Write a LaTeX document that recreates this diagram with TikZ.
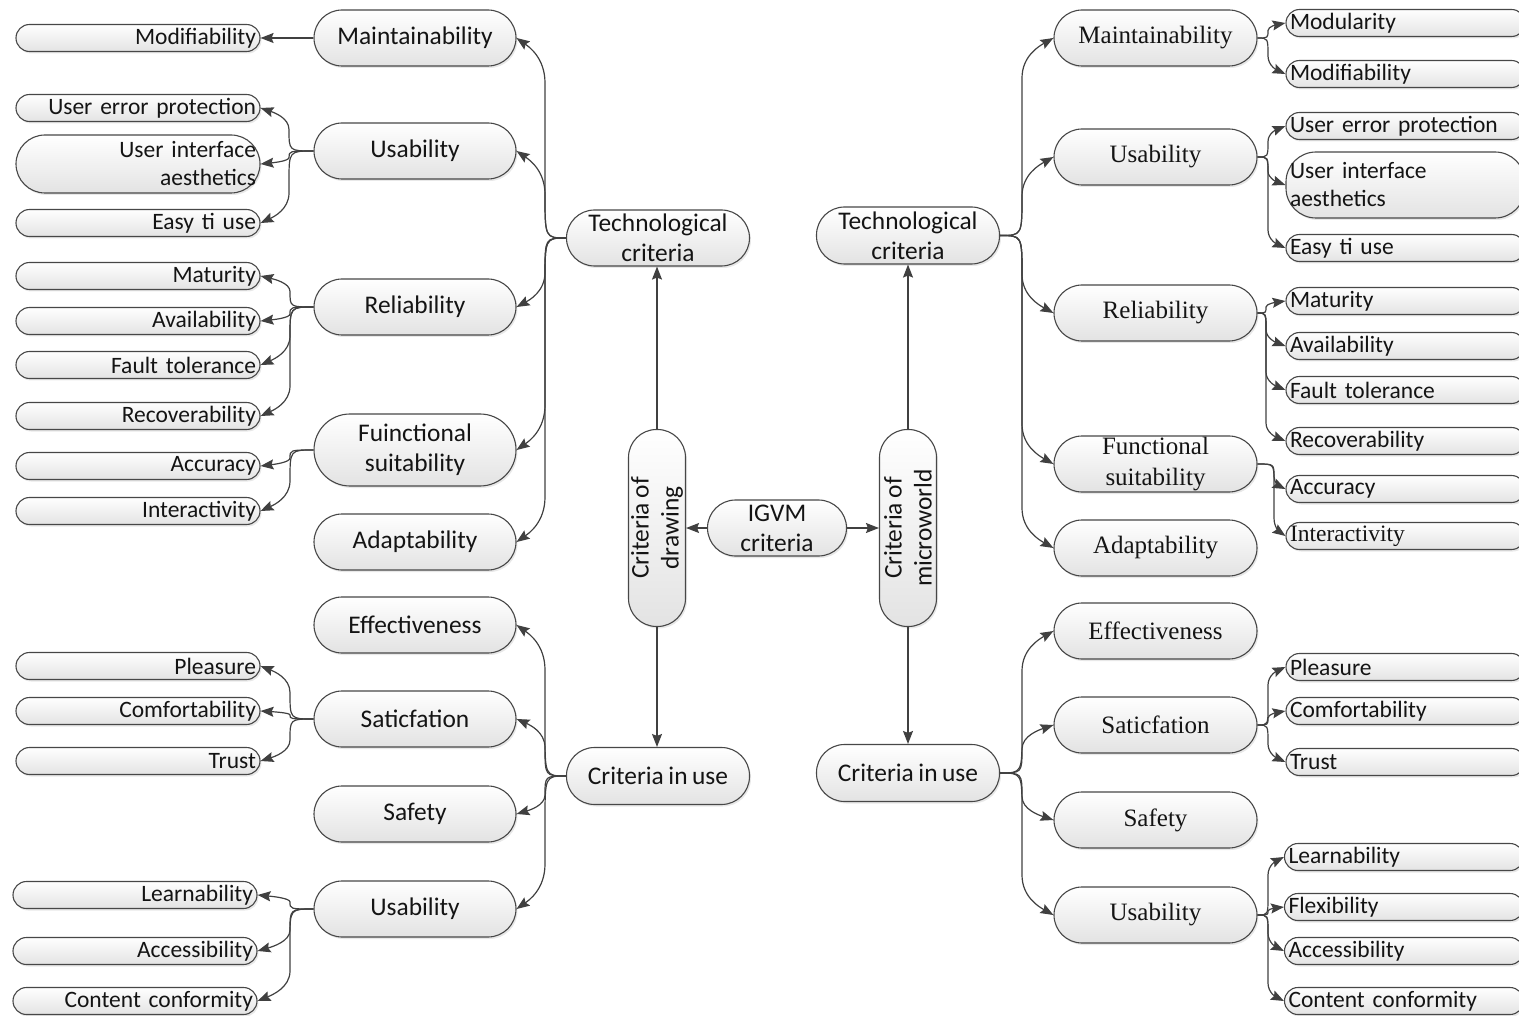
\documentclass[tikz,border=0pt]{standalone}
\usepackage{fontspec}
\setmainfont[WordSpace=0.8]{Carlito}
\newfontfamily\tnr{Liberation Serif}
\usetikzlibrary{arrows.meta,shadows,calc}
\newcommand\fmid{\fontsize{25.4}{30}\selectfont}
\newcommand\fmidR{\fontsize{25}{31}\selectfont}
\newcommand\fleaf{\fontsize{23.5}{28}\selectfont}
\tikzset{
  box/.style={draw=black!72, line width=1.1pt, top color=white, bottom color=black!11,
    drop shadow={shadow xshift=1.5pt, shadow yshift=-2pt, opacity=0.18},
    text=black!92, inner sep=0pt},
  mid/.style={box, rounded corners=28pt, minimum width=202pt, minimum height=56pt, align=center, font=\fmid},
  midR/.style={mid, minimum width=203pt, font=\tnr\fmidR},
  leafL/.style={box, rounded corners=13.5pt, minimum height=27pt, text width=236pt, inner xsep=4pt, align=right, font=\fleaf},
  leafR/.style={box, rounded corners=13.5pt, minimum height=27pt, text width=231pt, inner xsep=4pt, align=left, font=\fleaf},
  cen/.style={box, rounded corners=28pt, minimum width=183pt, minimum height=56pt, align=center, font=\fmid},
  arr/.style={draw=black!75, line width=1.2pt, -{Stealth[length=13pt,width=10pt,inset=2pt]}},
}
% curved connector: [max radius]{source}{target}{trunk x}
\newcommand\cn[4][40]{%
  \draw[arr] let \p1=(#2), \p2=(#3),
    \n1={(\y2-\y1)/abs(\y2-\y1)}, \n2={min(#1,abs(\y2-\y1)/2)} in
    (\p1) .. controls ({#4pt},\y1) .. ({#4pt},{\y1+\n1*\n2})
    -- ({#4pt},{\y2-\n1*\n2})
    .. controls ({#4pt},{\y2-\n1*\n2*0.45}) and ({\x2+(#4-\x2)*0.45},{\y2-\n1*\n2*0.2}) .. (\p2);}
\begin{document}
\begin{tikzpicture}[x=1pt,y=-1pt]
\useasboundingbox (0,0) rectangle (1519,1016);
\clip (0,0) rectangle (1519,1016);

% ---------- centre ----------
\node[cen] (TL) at (658,238) {Technological\\criteria};
\node[cen, minimum height=57pt] (CL) at (658,776) {Criteria in use};
\node[cen, minimum width=197pt, minimum height=57pt, rotate=90] (D) at (657,528) {Criteria of\\drawing};
\node[cen, minimum width=139pt] (IG) at (777,528) {IGVM\\criteria};
\node[cen, minimum width=197pt, minimum height=57pt, rotate=90] (M) at (908,528) {Criteria of\\microworld};
\node[cen, minimum height=57pt] (TR) at (908,235.5) {Technological\\criteria};
\node[cen, minimum height=57pt] (CR) at (908,773) {Criteria in use};

\draw[arr] (D.east) -- (D.east |- TL.south);
\draw[arr] (D.west) -- (D.west |- CL.north);
\draw[arr] (IG.west) -- (D.south);
\draw[arr] (IG.east) -- (M.north);
\draw[arr] (M.east) -- (M.east |- TR.south);
\draw[arr] (M.west) -- (M.west |- CR.north);

% ---------- left mid level ----------
\node[mid] (MaintL) at (415,38) {Maintainability};
\node[mid] (UsabL) at (415,151) {Usability};
\node[mid] (RelL) at (415,307) {Reliability};
\node[mid, minimum height=72pt, rounded corners=36pt] (FuncL) at (415,450) {Fuinctional\\suitability};
\node[mid] (AdaptL) at (415,542) {Adaptability};
\node[mid] (EffL) at (415,625) {Effectiveness};
\node[mid] (SatL) at (415,719) {Saticfation};
\node[mid] (SafeL) at (415,814) {Safety};
\node[mid] (Usab2L) at (415,909) {Usability};

% ---------- left leaves ----------
\node[leafL] (ModL) at (138,38) {Modifiability};
\node[leafL] (UepL) at (138,108) {User error protection};
\node[leafL, minimum height=58pt, rounded corners=29pt] (UiaL) at (138,164) {User interface\\aesthetics};
\node[leafL] (EasyL) at (138,223) {Easy ti use};
\node[leafL] (MatL) at (138,276) {Maturity};
\node[leafL] (AvaL) at (138,321) {Availability};
\node[leafL] (FaultL) at (138,365) {Fault tolerance};
\node[leafL] (RecL) at (138,416) {Recoverability};
\node[leafL] (AccL) at (138,466) {Accuracy};
\node[leafL] (IntL) at (138,511) {Interactivity};
\node[leafL] (PleaL) at (138,666) {Pleasure};
\node[leafL] (ComfL) at (138,711) {Comfortability};
\node[leafL] (TrustL) at (138,761) {Trust};
\node[leafL] (LearnL) at (135,895) {Learnability};
\node[leafL] (AccsL) at (135,951) {Accessibility};
\node[leafL] (ContL) at (135,1001) {Content conformity};

% ---------- right mid level ----------
\node[midR] (MaintR) at (1155.5,38) {Maintainability};
\node[midR] (UsabR) at (1155.5,157) {Usability};
\node[midR] (RelR) at (1155.5,313) {Reliability};
\node[midR] (FuncR) at (1155.5,464) {Functional\\suitability};
\node[midR] (AdaptR) at (1155.5,548) {Adaptability};
\node[midR] (EffR) at (1155.5,631) {Effectiveness};
\node[midR] (SatR) at (1155.5,725) {Saticfation};
\node[midR] (SafeR) at (1155.5,820) {Safety};
\node[midR] (Usab2R) at (1155.5,915) {Usability};

% ---------- right leaves ----------
\node[leafR] (ModuR) at (1405.5,23) {Modularity};
\node[leafR] (ModR) at (1405.5,74) {Modifiability};
\node[leafR] (UepR) at (1405.5,126) {User error protection};
\node[leafR, minimum height=66pt, rounded corners=30pt] (UiaR) at (1405.5,185) {User interface\\aesthetics};
\node[leafR] (EasyR) at (1405.5,248) {Easy ti use};
\node[leafR] (MatR) at (1405.5,301) {Maturity};
\node[leafR] (AvaR) at (1405.5,346) {Availability};
\node[leafR] (FaultR) at (1405.5,390) {Fault tolerance};
\node[leafR] (RecR) at (1405.5,441) {Recoverability};
\node[leafR] (AccR) at (1405.5,489) {Accuracy};
\node[leafR, font=\tnr\fleaf] (IntR) at (1405.5,536) {Interactivity};
\node[leafR] (PleaR) at (1405.5,667) {Pleasure};
\node[leafR] (ComfR) at (1405.5,711) {Comfortability};
\node[leafR] (TrustR) at (1405.5,762) {Trust};
\node[leafR] (LearnR) at (1404,857) {Learnability};
\node[leafR] (FlexR) at (1404,907) {Flexibility};
\node[leafR] (AccsR) at (1404,951) {Accessibility};
\node[leafR] (ContR) at (1404,1001) {Content conformity};

% ---------- left connectors ----------
\foreach \t in {MaintL,UsabL,RelL,FuncL,AdaptL} {\cn[45]{TL.west}{\t.east}{545}}
\foreach \t in {EffL,SatL,SafeL,Usab2L} {\cn[45]{CL.west}{\t.east}{545}}
\draw[arr] (MaintL.west) -- (ModL.east);
\foreach \t in {UepL,UiaL,EasyL} {\cn[30]{UsabL.west}{\t.east}{289}}
\foreach \t in {MatL,AvaL,FaultL,RecL} {\cn[30]{RelL.west}{\t.east}{290}}
\foreach \t in {AccL,IntL} {\cn[30]{FuncL.west}{\t.east}{290}}
\foreach \t in {PleaL,ComfL,TrustL} {\cn[30]{SatL.west}{\t.east}{290}}
\foreach \t in {LearnL,AccsL,ContL} {\cn[30]{Usab2L.west}{\t.east}{290}}

% ---------- right connectors ----------
\foreach \t in {MaintR,UsabR,RelR,FuncR,AdaptR} {\cn[40]{TR.east}{\t.west}{1022}}
\foreach \t in {EffR,SatR,SafeR,Usab2R} {\cn[40]{CR.east}{\t.west}{1022}}
\foreach \t in {ModuR,ModR} {\cn[18]{MaintR.east}{\t.west}{1268}}
\foreach \t in {UepR,UiaR,EasyR} {\cn[18]{UsabR.east}{\t.west}{1268}}
\foreach \t in {MatR,AvaR,FaultR,RecR} {\cn[18]{RelR.east}{\t.west}{1266}}
\foreach \t in {AccR,IntR} {\cn[18]{FuncR.east}{\t.west}{1274}}
\foreach \t in {PleaR,ComfR,TrustR} {\cn[18]{SatR.east}{\t.west}{1268}}
\foreach \t in {LearnR,FlexR,AccsR,ContR} {\cn[18]{Usab2R.east}{\t.west}{1268}}
\end{tikzpicture}
\end{document}
